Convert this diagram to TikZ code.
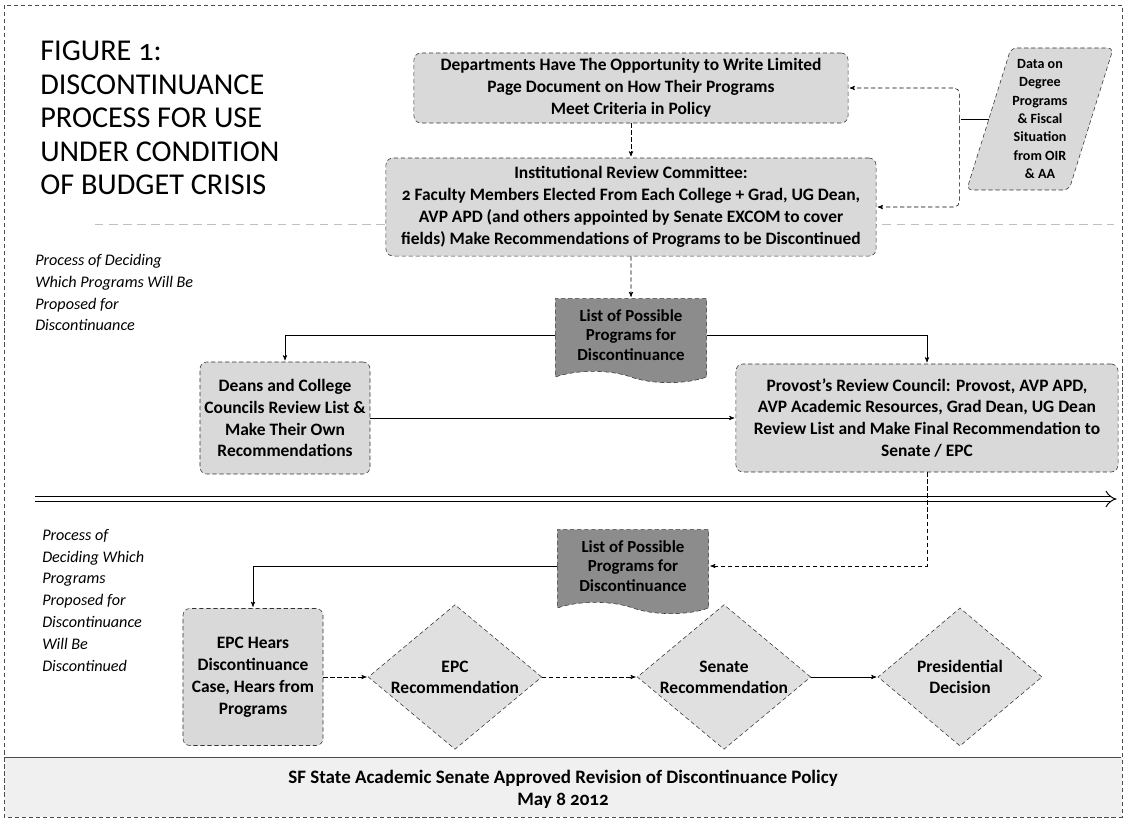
\documentclass[tikz,border=0pt]{standalone}
\usepackage{fontspec}
\setmainfont{Carlito}[Numbers=OldStyle]
\usepackage{tikz}
\usetikzlibrary{arrows}
\usetikzlibrary{calc}
\usetikzlibrary{positioning}
\usetikzlibrary{shapes.geometric,shapes.symbols}

\begin{document}
\begin{tikzpicture}[x=0.025cm,y=-0.025cm,>=stealth',shorten >=1pt,auto,node distance=2.975cm,thin]
	\tikzstyle{box}=[draw=black!80, densely dashed, fill=black!15, rounded corners=5pt, align=center, inner sep=2pt, font=\bfseries\fontsize{12.4}{15.6}\selectfont]
	\tikzstyle{listdoc}=[tape, tape bend top=none, tape bend bottom=out and in, tape bend height=8pt, draw=black!80, densely dashed, fill=black!45, align=center, inner sep=1pt, minimum width=3.78cm, minimum height=2.1cm, font=\bfseries\fontsize{12}{14}\selectfont]
	\tikzstyle{decision}=[diamond, aspect=1.2, draw=black!80, densely dashed, fill=black!12, align=center, inner sep=1pt, minimum width=4.1cm, minimum height=3.45cm, font=\bfseries\fontsize{12.4}{15}\selectfont]
	\tikzstyle{datain}=[trapezium, trapezium left angle=70, trapezium right angle=110, trapezium stretches body=true, draw=black!80, densely dashed, fill=black!15, rounded corners=4pt, align=center, inner sep=1pt, minimum width=3.6cm, minimum height=3.55cm, font=\bfseries\fontsize{10}{13}\selectfont]
	\tikzstyle{side}=[anchor=north west, align=left, inner sep=0pt, font=\itshape\fontsize{11.5}{15.5}\selectfont]
	\tikzstyle{link}=[->, densely dashed]
	\useasboundingbox (0,0) rectangle (1126,820);
	% frame, footer and dividers
	\fill[black!6] (5,757) rectangle (1122,817);
	\draw[black!70] (5,757) -- (1122,757);
	\draw[black!70, densely dashed] (4,5) rectangle (1122,817);
	\draw[black!25, dash pattern=on 6pt off 4pt] (95,224) -- (1115,224);
	\draw[double distance=3.5pt, line width=0.7pt, -implies] (35,499) -- (1118,499);

	\node[anchor=north west, align=left, inner sep=0pt, font=\fontsize{21.5}{23.8}\selectfont] (title) at (40,41)
		{FIGURE 1:\\DISCONTINUANCE\\PROCESS FOR USE\\UNDER CONDITION\\OF BUDGET CRISIS};
	\node[side] (phase1) at (35,254) {Process of Deciding\\Which Programs Will Be\\Proposed for\\Discontinuance};
	\node[side] (phase2) at (42,529) {Process of\\Deciding Which\\Programs\\Proposed for\\Discontinuance\\Will Be\\Discontinued};

	% upper half
	\node[box, minimum width=10.85cm, minimum height=1.75cm] (dept) at (631,88)
		{Departments Have The Opportunity to Write Limited\\Page Document on How Their Programs\\Meet Criteria in Policy};
	\node[box, minimum width=12.25cm, minimum height=2.45cm] (irc) [below of=dept]
		{Institutional Review Committee:\\2 Faculty Members Elected From Each College + Grad, UG Dean,\\AVP APD (and others appointed by Senate EXCOM to cover\\fields) Make Recommendations of Programs to be Discontinued};
	\node[datain] (data) at (1040,119) {Data on\\Degree\\Programs\\\& Fiscal\\Situation\\from OIR\\\& AA};
	\node[listdoc] (list1) at (631,335) {List of Possible\\Programs for\\Discontinuance};
	\node[box, minimum width=4.25cm, minimum height=2.8cm] (deans) at (285,418)
		{Deans and College\\Councils Review List \&\\Make Their Own\\Recommendations};
	\node[box, minimum width=9.55cm, minimum height=2.7cm] (provost) at (927,418)
		{Provost's Review Council: Provost, AVP APD,\\AVP Academic Resources, Grad Dean, UG Dean\\Review List and Make Final Recommendation to\\Senate / EPC};

	% lower half
	\node[listdoc] (list2) at (633,566) {List of Possible\\Programs for\\Discontinuance};
	\node[box, minimum width=3.5cm, minimum height=3.425cm] (epc) at (253,677)
		{EPC Hears\\Discontinuance\\Case, Hears from\\Programs};
	\node[decision] (epcrec) at (455,677) {EPC\\Recommendation};
	\node[decision] (senrec) at (724,677) {Senate\\Recommendation};
	\node[decision] (pres) at (960,677) {Presidential\\Decision};

	\node[align=center, font=\bfseries\fontsize{13.5}{15.6}\selectfont] (footer) at (563,789)
		{SF State Academic Senate Approved Revision of Discontinuance Policy\\May 8 2012};

	\draw (data.west) -- ++(-29,0) coordinate (fork);
	\draw[link, rounded corners=4pt] (fork) |- (dept.east);
	\draw[link, rounded corners=4pt] (fork) |- (irc.east);
	\path
		(dept) edge[link] (irc)
		(irc) edge[link] (list1)
		(deans) edge[->] (provost)
		(epc) edge[link] (epcrec)
		(epcrec) edge[link] (senrec)
		(senrec) edge[->] (pres);
	\draw[->] (list1.west) -| (deans.north);
	\draw[->] (list1.east) -| (provost.north);
	\draw[link] (provost.south) |- (list2.east);
	\draw[->] (list2.west) -| (epc.north);
\end{tikzpicture}
\end{document}
